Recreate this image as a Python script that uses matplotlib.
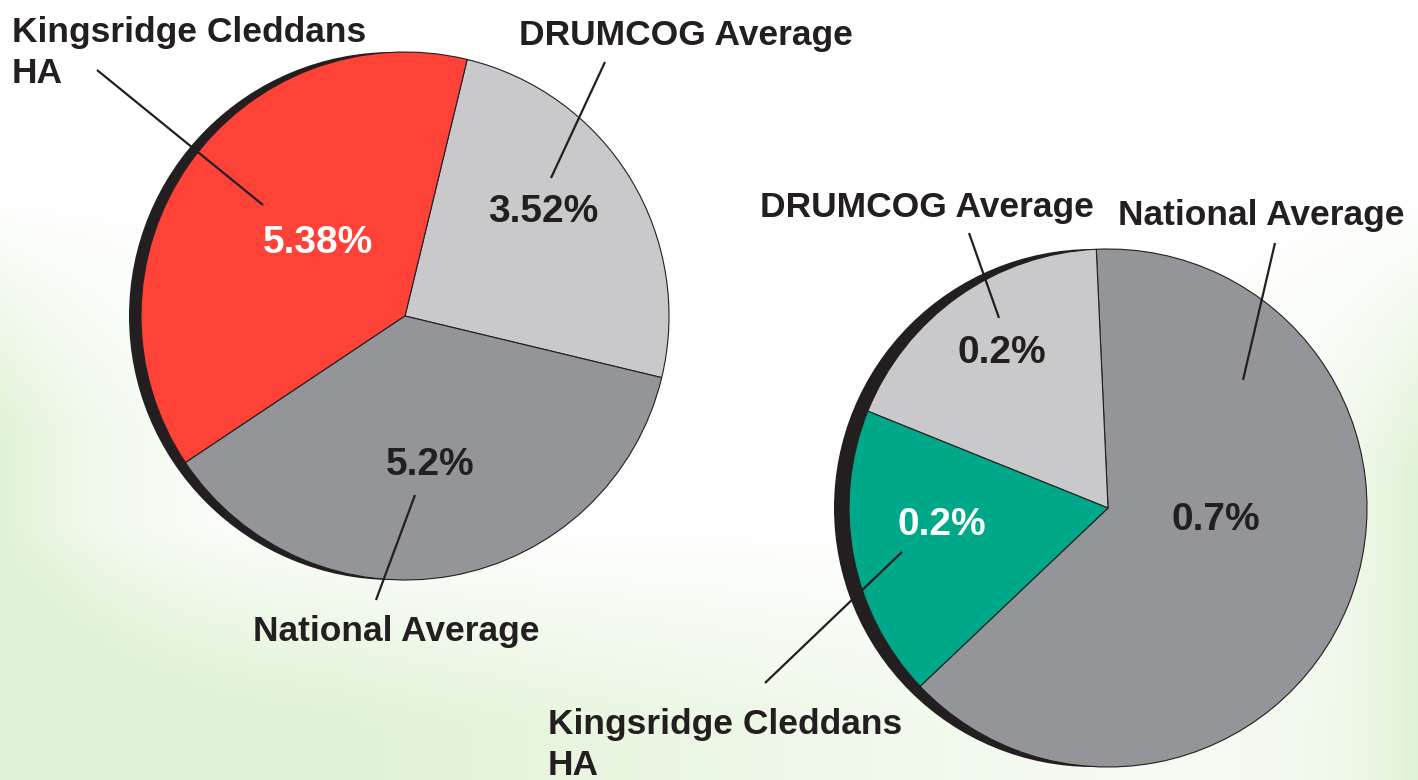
import matplotlib

matplotlib.use("Agg")
import matplotlib.pyplot as plt
import numpy as np
from matplotlib.patches import Circle

# ── Data ────────────────────────────────────────────────────────────────────
left_labels = ["DRUMCOG Average", "Kingsridge Cleddans\nHA", "National Average"]
left_values = [3.52, 5.38, 5.2]
left_texts = ["3.52%", "5.38%", "5.2%"]

right_labels = ["National Average", "DRUMCOG Average", "Kingsridge Cleddans\nHA"]
right_values = [0.7, 0.2, 0.2]
right_texts = ["0.7%", "0.2%", "0.2%"]

# ── Style ───────────────────────────────────────────────────────────────────
W, H = 1418, 780
INK = "#231F20"
LIGHT = "#C9C8CA"
DARK = "#939598"
RED = "#FF4238"
TEAL = "#00A88A"

plt.rcParams["font.family"] = ["Liberation Sans", "DejaVu Sans"]
plt.rcParams["font.weight"] = "bold"

fig = plt.figure(figsize=(W / 100, H / 100), dpi=100)

# background wash: white, greening toward left-middle, bottom and right
bg = fig.add_axes([0, 0, 1, 1])
xx, yy = np.meshgrid(np.linspace(0, 1, 142), np.linspace(0, 1, 78))
left_w = np.exp(-xx / 0.09) * np.clip((yy - 0.25) / 0.3, 0, 1)
bottom_w = np.clip((yy - 0.68) / 0.25, 0, 1) * np.clip(1.3 - xx * 1.3, 0, 1)
right_w = np.exp(-(1 - xx) / 0.07) * np.clip((yy - 0.25) / 0.35, 0, 1)
w = np.clip(left_w + bottom_w + right_w, 0, 1)[..., None]
white = np.array([1.0, 1.0, 1.0])
green = np.array([0.886, 0.953, 0.847])
bg.imshow(white * (1 - w) + green * w, extent=[0, 1, 0, 1], aspect="auto",
          interpolation="bilinear")
bg.axis("off")

ax = fig.add_axes([0, 0, 1, 1])


def py(y):
    """pixel row (from top) -> data y."""
    return H - y


def draw_pie(center, radius, shadow_dx, values, colors, start):
    cx, cy = center
    ax.add_patch(Circle((cx + shadow_dx, py(cy)), radius, facecolor=INK,
                        edgecolor="none", zorder=1))
    wedges, _ = ax.pie(values, colors=colors, startangle=start,
                       center=(cx, py(cy)), radius=radius, frame=True,
                       wedgeprops=dict(edgecolor=INK, linewidth=0.8))
    for wdg in wedges:
        wdg.set_zorder(2)


def label(x, y, s, color=INK, size=25.5, ha="center", va="center"):
    ax.text(x, py(y), s, color=color, fontsize=size, fontweight="bold",
            ha=ha, va=va, linespacing=1.3, zorder=5)


def pct(x, y, s, color=INK):
    label(x, y, s, color=color, size=28)


def leader(x0, y0, x1, y1):
    ax.plot([x0, x1], [py(y0), py(y1)], color=INK, linewidth=1.6,
            solid_capstyle="butt", zorder=4)


# ── Left pie ────────────────────────────────────────────────────────────────
draw_pie((405, 316), 264, -12, left_values, [LIGHT, RED, DARK], -13.5)
pct(543, 212, left_texts[0])
pct(318, 243, left_texts[1], color="white")
pct(430, 465, left_texts[2])
label(519, 36, left_labels[0], ha="left")
label(12, 53, left_labels[1], ha="left")
label(253, 632, left_labels[2], ha="left")
leader(605, 62, 551, 178)
leader(97, 70, 263, 205)
leader(415, 495, 376, 600)

# ── Right pie ───────────────────────────────────────────────────────────────
draw_pie((1108, 508), 259, -15, right_values, [DARK, LIGHT, TEAL], -136.5)
pct(1216, 520, right_texts[0])
pct(1002, 353, right_texts[1])
pct(942, 525, right_texts[2], color="white")
label(1118, 215, right_labels[0], ha="left")
label(760, 208, right_labels[1], ha="left")
label(548, 745, right_labels[2], ha="left")
leader(1275, 243, 1243, 380)
leader(969, 233, 999, 318)
leader(765, 683, 902, 552)

ax.set_xlim(0, W)
ax.set_ylim(0, H)
ax.set_aspect("auto")
ax.axis("off")

fig.savefig("out.png", dpi=100)
